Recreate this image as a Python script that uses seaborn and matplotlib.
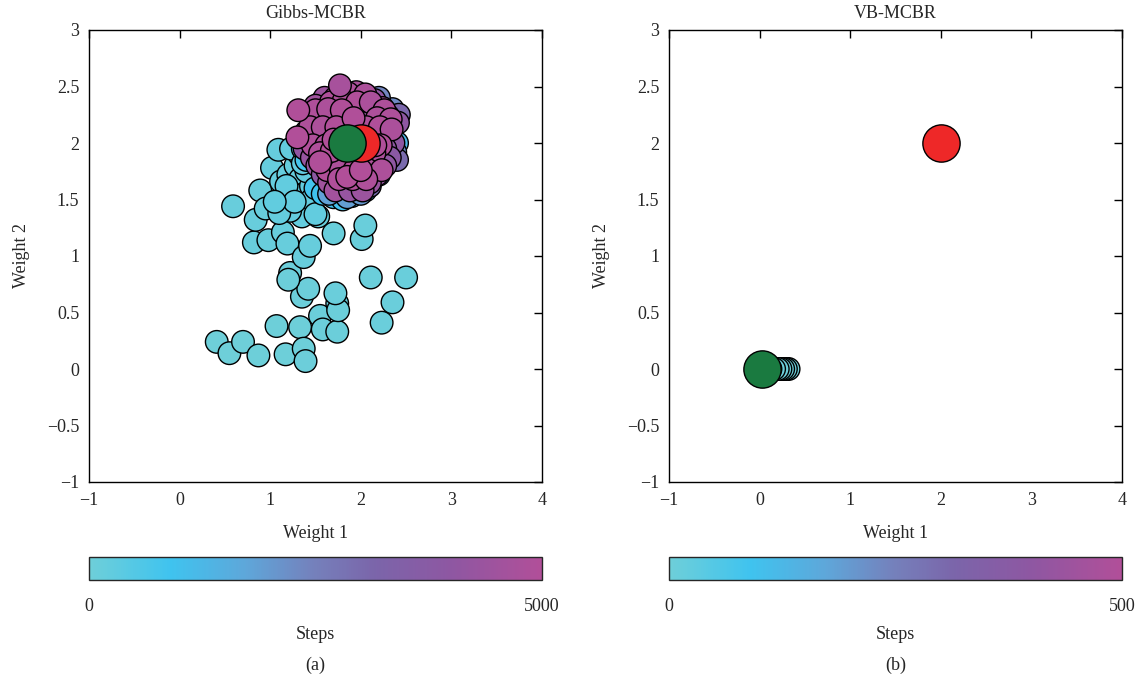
import numpy as np
import pandas as pd
import matplotlib
matplotlib.use("Agg")
import matplotlib.pyplot as plt
import seaborn as sns
from matplotlib.colors import LinearSegmentedColormap, Normalize
from matplotlib.cm import ScalarMappable

# ---------------- data ----------------
# Gibbs-MCBR: early (cyan) samples
early_w1 = [0.41, 0.55, 0.70, 0.87, 1.07, 1.17, 1.33, 1.37, 1.39, 1.35, 1.42, 1.22, 1.20,
            1.55, 1.58, 1.74, 1.74, 1.75, 1.72, 2.23, 2.35, 2.11, 2.50, 2.01, 2.05, 1.70,
            1.53, 0.82, 0.98, 0.84, 0.89, 0.59, 1.14, 1.19, 1.37, 1.44, 0.95, 1.23,
            1.02, 1.09, 1.12, 1.20, 1.28, 1.33, 1.25, 1.15, 1.30, 1.38, 1.42, 1.35,
            1.22, 1.10, 1.45, 1.40, 1.32, 1.23, 1.46, 1.50, 1.18, 1.27, 1.36, 1.05]
early_w2 = [0.24, 0.14, 0.24, 0.12, 0.38, 0.13, 0.37, 0.18, 0.07, 0.64, 0.71, 0.85, 0.79,
            0.47, 0.35, 0.33, 0.58, 0.52, 0.67, 0.41, 0.59, 0.81, 0.81, 1.15, 1.27, 1.20,
            1.35, 1.12, 1.14, 1.32, 1.58, 1.44, 1.21, 1.11, 0.99, 1.09, 1.42, 1.56,
            1.78, 1.94, 1.66, 1.72, 1.80, 1.68, 1.55, 1.50, 1.45, 1.55, 1.40, 1.35,
            1.40, 1.38, 1.62, 1.75, 1.90, 1.95, 1.50, 1.37, 1.62, 1.48, 1.82, 1.48]
early_step = [10, 14, 18, 22, 26, 30, 34, 38, 42, 46, 50, 54, 58,
              62, 66, 70, 74, 78, 82, 86, 90, 94, 98, 102, 106, 110,
              114, 118, 122, 126, 130, 134, 138, 142, 146, 150, 154, 158,
              162, 166, 170, 174, 178, 182, 186, 190, 194, 198, 202, 206,
              210, 214, 218, 222, 226, 230, 234, 238, 242, 246, 250, 254]

# Gibbs-MCBR: middle (blue / violet) samples
mid_w1 = [1.36, 1.40, 1.50, 1.58, 1.70, 1.80, 1.90, 2.05, 2.20, 2.35, 2.40, 2.35, 1.45, 1.55,
          1.65, 1.85, 2.00, 2.25, 2.38, 2.35, 2.20, 1.80, 1.50, 1.42, 2.30, 2.10, 2.40, 2.42]
mid_w2 = [1.95, 1.85, 1.60, 1.55, 1.52, 1.50, 1.53, 1.58, 1.72, 1.85, 2.00, 2.15, 2.10, 2.35,
          1.55, 1.52, 1.55, 1.80, 1.92, 2.30, 2.40, 2.45, 2.25, 1.95, 2.05, 1.62, 1.85, 2.25]
mid_step = [700, 760, 820, 880, 940, 1000, 1060, 1120, 1180, 1240, 1300, 1360, 1420, 1480,
            1800, 1900, 2000, 2100, 2200, 2300, 2400, 2500, 2600, 2700, 2800, 2900, 3000, 3100]

# Gibbs-MCBR: late (magenta) samples
late_w1 = [1.78, 1.95,
           1.60, 1.72, 1.88, 2.02, 2.15,
           1.50, 1.66, 1.80, 1.96, 2.10, 2.24,
           1.42, 1.57, 1.73, 1.87, 2.03, 2.18, 2.30,
           1.48, 1.63, 1.78, 1.93, 2.08, 2.22, 2.41,
           1.40, 1.55, 1.70, 1.86, 2.00, 2.14, 2.28,
           1.45, 1.60, 1.75, 2.10, 2.25, 2.36,
           1.38, 1.52, 1.67, 1.82, 1.97, 2.12, 2.27,
           1.46, 1.61, 1.76, 1.91, 2.06, 2.20, 2.32,
           1.52, 1.68, 1.83, 1.98, 2.13, 2.27,
           1.58, 1.73, 1.88, 2.03, 2.18,
           1.65, 1.80, 1.95, 2.10,
           1.72, 1.88, 2.02,
           1.86, 2.05, 1.67, 1.81, 1.96, 2.11, 2.26, 1.50, 1.64, 1.79, 2.18, 2.33,
           1.44, 1.58, 1.73, 2.06, 2.21, 2.34, 1.47, 1.62, 1.77, 1.92, 2.07, 2.22,
           1.55, 1.70, 1.85, 2.00, 2.15, 1.63, 1.78, 1.93, 2.08, 2.23, 1.76, 1.91, 2.06,
           1.31, 1.30, 1.77, 1.85, 2.00, 1.68, 1.92, 2.16, 1.55, 1.70]
late_w2 = [2.47, 2.45,
           2.40, 2.40, 2.40, 2.40, 2.38,
           2.33, 2.33, 2.33, 2.33, 2.33, 2.31,
           2.26, 2.26, 2.26, 2.26, 2.26, 2.26, 2.24,
           2.18, 2.18, 2.18, 2.18, 2.18, 2.18, 2.18,
           2.10, 2.10, 2.10, 2.10, 2.10, 2.10, 2.10,
           2.02, 2.02, 2.02, 2.02, 2.02, 2.00,
           1.95, 1.95, 1.95, 1.95, 1.95, 1.95, 1.95,
           1.87, 1.87, 1.87, 1.87, 1.87, 1.87, 1.87,
           1.80, 1.80, 1.80, 1.80, 1.80, 1.80,
           1.72, 1.72, 1.72, 1.72, 1.72,
           1.65, 1.65, 1.65, 1.65,
           1.58, 1.58, 1.58,
           2.44, 2.43, 2.36, 2.37, 2.36, 2.36, 2.29, 2.29, 2.30, 2.29, 2.22, 2.21,
           2.14, 2.14, 2.14, 2.14, 2.14, 2.12, 1.98, 1.98, 1.98, 1.98, 1.98, 1.98,
           1.91, 1.91, 1.91, 1.91, 1.91, 1.76, 1.76, 1.76, 1.76, 1.76, 1.68, 1.68, 1.68,
           2.29, 2.05, 2.51, 1.70, 1.76, 1.93, 2.22, 1.98, 1.83, 2.03]
late_step = [4300, 4800,
             4400, 4850, 4200, 4600, 4100,
             4500, 4750, 3900, 4950, 4250, 4650,
             4550, 4150, 4900, 4350, 4700, 4050, 4450,
             3950, 4880, 4520, 4720, 4320, 4620, 4020,
             4420, 4780, 4120, 4680, 4220, 4580, 3850,
             4480, 4180, 4920, 4380, 4660, 3980,
             4080, 4880, 4540, 4740, 4340, 4640, 4000,
             4280, 4760, 4060, 4560, 4160, 4460, 3880,
             4240, 4140, 4940, 4400, 4600, 4040,
             3920, 4820, 4480, 4690, 4260,
             4500, 4100, 4960, 4300,
             4570, 4200, 4370,
             4910, 4830, 4940, 4870, 4970, 4810, 4890, 4930, 4860, 4950, 4840, 4900,
             4920, 4850, 4980, 4880, 4960, 4820, 4940, 4870, 4990, 4910, 4860, 4950,
             4930, 4890, 4970, 4900, 4850, 4960, 4880, 4990, 4920, 4870, 4940, 4980, 4910,
             4980, 4990, 4700, 4990, 4995, 4985, 4975, 4970, 4965, 4960]

gibbs_max_step = 5000
gibbs_true = (2.0, 2.0)
gibbs_est = (1.85, 2.0)

# VB-MCBR
vb_w1 = [0.32, 0.29, 0.26, 0.23, 0.20, 0.16, 0.12, 0.08, 0.04]
vb_w2 = [0.0, 0.0, 0.0, 0.0, 0.0, 0.0, 0.0, 0.0, 0.0]
vb_step = [0, 1, 2, 3, 4, 5, 6, 7, 8]
vb_max_step = 500
vb_true = (2.0, 2.0)
vb_est = (0.03, 0.0)

x_ticks = [-1, 0, 1, 2, 3, 4]
y_ticks = [-1, -0.5, 0, 0.5, 1, 1.5, 2, 2.5, 3]
y_tick_labels = ["\u22121", "\u22120.5", "0", "0.5", "1", "1.5", "2", "2.5", "3"]
x_tick_labels = ["\u22121", "0", "1", "2", "3", "4"]

# ---------------- style ----------------
sns.set_style("white")
plt.rcParams["font.family"] = ["Liberation Serif", "DejaVu Serif"]
plt.rcParams["font.size"] = 13
plt.rcParams["axes.unicode_minus"] = True

cmap = LinearSegmentedColormap.from_list(
    "steps",
    [(0.0, "#6ecfd9"), (0.18, "#3fc3ef"), (0.35, "#5fa6d9"), (0.5, "#7580bb"),
     (0.63, "#7b65aa"), (0.8, "#8e57a2"), (1.0, "#b14f99")])
red = "#ee2828"
green = "#1a7a40"
FS = 13

fig = plt.figure(figsize=(11.46, 6.85), dpi=100)
W, H = 1146, 685

def ax_rect(x0, y0, x1, y1):
    return [x0 / W, 1 - y1 / H, (x1 - x0) / W, (y1 - y0) / H]

panels = [
    dict(title="Gibbs-MCBR", x0=89, sub="(a)",
         w1=early_w1 + mid_w1 + late_w1, w2=early_w2 + mid_w2 + late_w2,
         st=early_step + mid_step + late_step, vmax=gibbs_max_step,
         true=gibbs_true, est=gibbs_est),
    dict(title="VB-MCBR", x0=669, sub="(b)",
         w1=vb_w1, w2=vb_w2, st=vb_step, vmax=vb_max_step,
         true=vb_true, est=vb_est),
]

for p in panels:
    x0 = p["x0"]
    x1 = x0 + 453
    ax = fig.add_axes(ax_rect(x0, 30, x1, 482))
    df = pd.DataFrame({"w1": p["w1"], "w2": p["w2"], "step": p["st"]})
    sns.scatterplot(data=df, x="w1", y="w2", hue="step", palette=cmap,
                    hue_norm=(0, p["vmax"]), s=265, edgecolor="black",
                    linewidth=1.0, legend=False, ax=ax, zorder=2)
    ax.scatter([p["true"][0]], [p["true"][1]], s=720, color=red,
               edgecolor="black", linewidth=1.0, zorder=3)
    ax.scatter([p["est"][0]], [p["est"][1]], s=720, color=green,
               edgecolor="black", linewidth=1.0, zorder=4)
    ax.set_xlim(-1, 4)
    ax.set_ylim(-1, 3)
    ax.set_xticks(x_ticks)
    ax.set_xticklabels(x_tick_labels)
    ax.set_yticks(y_ticks)
    ax.set_yticklabels(y_tick_labels)
    ax.tick_params(direction="in", top=True, right=True, length=6, width=1.0,
                   labelsize=FS, pad=7, color="black")
    for sp in ax.spines.values():
        sp.set_linewidth(1.0)
        sp.set_color("black")
    ax.set_xlabel("Weight 1", fontsize=FS, labelpad=12)
    ax.set_ylabel("Weight 2", fontsize=FS, labelpad=12)
    ax.set_title(p["title"], fontsize=FS, pad=9)

    cax = fig.add_axes(ax_rect(x0, 557, x1, 580))
    sm = ScalarMappable(norm=Normalize(0, p["vmax"]), cmap=cmap)
    cb = fig.colorbar(sm, cax=cax, orientation="horizontal", ticks=[0, p["vmax"]])
    cb.outline.set_linewidth(1.0)
    cb.ax.tick_params(length=0, labelsize=FS, pad=13)
    cb.set_label("Steps", fontsize=FS, labelpad=8)
    fig.text((x0 + x1) / 2 / W, 1 - 665 / H, p["sub"], ha="center", va="center",
             fontsize=FS)

fig.savefig("out.png", dpi=100)
